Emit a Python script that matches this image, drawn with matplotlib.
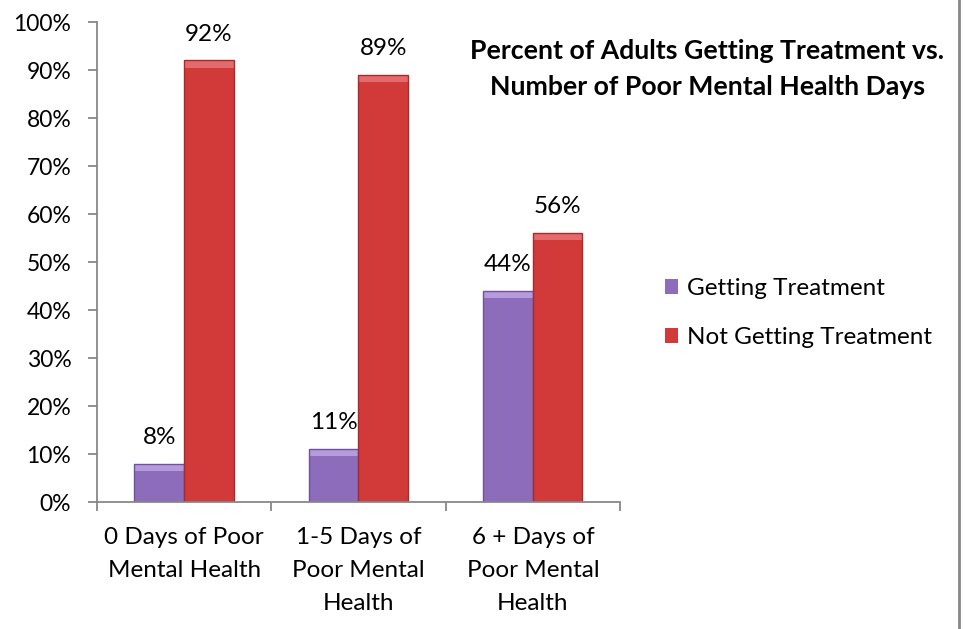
import matplotlib
matplotlib.use('Agg')
import matplotlib.pyplot as plt
from matplotlib.lines import Line2D
from matplotlib.ticker import FuncFormatter, FixedLocator
import numpy as np

categories = ['0 Days of Poor\nMental Health',
              '1-5 Days of\nPoor Mental\nHealth',
              '6 + Days of\nPoor Mental\nHealth']
getting = [8, 11, 44]
not_getting = [92, 89, 56]
series_names = ['Getting Treatment', 'Not Getting Treatment']
title = 'Percent of Adults Getting Treatment vs.\nNumber of Poor Mental Health Days'

plt.rcParams['font.family'] = ['Lato', 'DejaVu Sans']

fig = plt.figure(figsize=(9.66, 6.29), dpi=100)
ax = fig.add_axes([0.1004, 0.2019, 0.5414, 0.7631])

x = np.arange(len(categories))
w = 0.285
purple = '#8d6cbb'
red = '#d23a3a'
b1 = ax.bar(x - w/2, getting, w, color=purple, linewidth=0, label=series_names[0])
b2 = ax.bar(x + w/2, not_getting, w, color=red, linewidth=0, label=series_names[1])

# lighter bevel on the top of each bar
bev = 1.5
ax.bar(x - w/2, [bev] * len(x), w, bottom=np.array(getting) - bev, color='#b59ade', linewidth=0)
ax.bar(x + w/2, [bev] * len(x), w, bottom=np.array(not_getting) - bev, color='#e46b6b', linewidth=0)
# outlines
ax.bar(x - w/2, getting, w, fill=False, edgecolor='#6f5299', linewidth=1)
ax.bar(x + w/2, not_getting, w, fill=False, edgecolor='#a82a2a', linewidth=1)

# value labels above bars
for bars, vals in ((b1, getting), (b2, not_getting)):
    for rect, v in zip(bars, vals):
        ax.annotate(f'{v}%', (rect.get_x() + rect.get_width()/2, v),
                    xytext=(0, 19), textcoords='offset points',
                    ha='center', va='center', fontsize=17.5)

ax.set_ylim(0, 100)
ax.set_xlim(-0.5, len(categories) - 0.5)
ax.set_yticks(np.arange(0, 101, 10))
ax.yaxis.set_major_formatter(FuncFormatter(lambda v, p: f'{int(v)}%'))
ax.xaxis.set_major_locator(FixedLocator(np.arange(-0.5, len(categories), 1)))
ax.xaxis.set_minor_locator(FixedLocator(x))
ax.set_xticklabels([], minor=False)
ax.set_xticklabels(categories, minor=True, fontsize=17.5, linespacing=1.7)
ax.tick_params(axis='x', which='minor', length=0, pad=18)
ax.tick_params(axis='both', which='major', length=6.5, width=1.3, color='#888888', labelsize=16.5, pad=12)

for s in ('top', 'right'):
    ax.spines[s].set_visible(False)
for s in ('left', 'bottom'):
    ax.spines[s].set_color('#888888')
    ax.spines[s].set_linewidth(1.3)

fig.text(0.7324, 0.891, title, ha='center', va='center', fontsize=19.2,
         fontweight='bold', linespacing=1.6)

handles = [b1, b2]
ax.legend(handles, series_names, loc='center left', bbox_to_anchor=(1.086, 0.394), frameon=False,
          fontsize=17.5, handlelength=0.55, handleheight=0.55, handletextpad=0.35,
          labelspacing=1.15, borderaxespad=0, borderpad=0)

fig.add_artist(Line2D([959/966, 959/966], [0, 1], color='#888888', linewidth=2,
                      transform=fig.transFigure))

fig.savefig('out.png', dpi=100, facecolor='white')
